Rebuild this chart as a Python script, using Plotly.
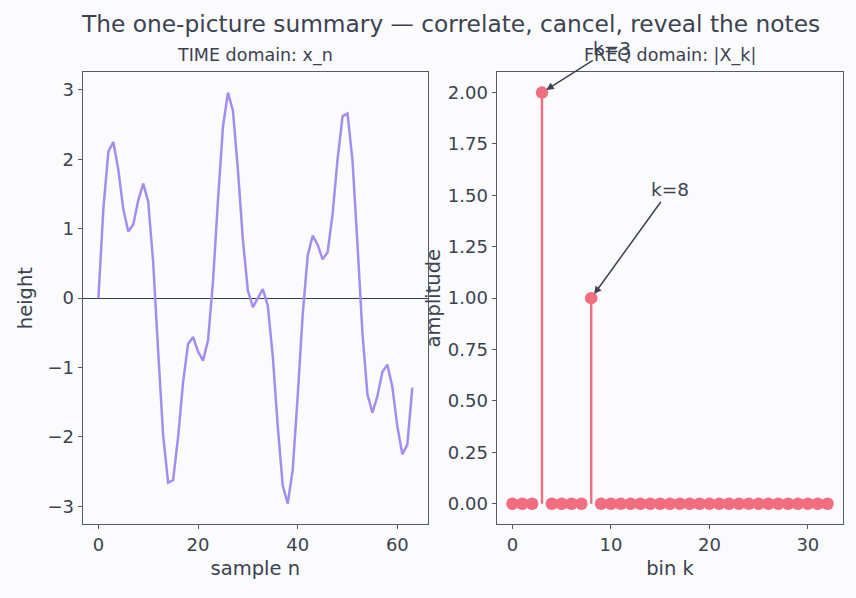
import plotly.graph_objects as go

# ---- data ----
sample_n = list(range(64))
height = [0.00, 1.29, 2.11, 2.25, 1.85, 1.28, 0.96, 1.06, 1.41, 1.65,
          1.39, 0.51, -0.77, -1.98, -2.66, -2.62, -2.00, -1.21, -0.66, -0.56,
          -0.77, -0.90, -0.61, 0.24, 1.41, 2.47, 2.96, 2.70, 1.85, 0.84,
          0.11, -0.13, 0.00, 0.13, -0.11, -0.84, -1.85, -2.70, -2.96, -2.47,
          -1.41, -0.24, 0.61, 0.90, 0.77, 0.56, 0.66, 1.21, 2.00, 2.62,
          2.66, 1.98, 0.77, -0.51, -1.39, -1.65, -1.41, -1.06, -0.96, -1.28,
          -1.85, -2.25, -2.11, -1.29]
bin_k = list(range(33))
amplitude = [0, 0, 0, 2.0, 0, 0, 0, 0, 1.0] + [0] * 24
peak_labels = ["k=3", "k=8"]
peak_bins = [3, 8]
peak_text_pos = [(10.1, 2.215), (16.0, 1.53)]

TEXT = "#3c4251"
SPINE = "#555b66"
BG = "#fbfbfd"
PURPLE = "#a38ef0"
RED = "#f26d80"
FONT = "DejaVu Sans"

fig = go.Figure()

fig.add_trace(go.Scatter(x=sample_n, y=height, mode="lines",
                         line=dict(color=PURPLE, width=2.5),
                         xaxis="x", yaxis="y", showlegend=False))

# stems
sx, sy = [], []
for k, a in zip(bin_k, amplitude):
    sx += [k, k, None]
    sy += [0, a, None]
fig.add_trace(go.Scatter(x=sx, y=sy, mode="lines",
                         line=dict(color=RED, width=2.4),
                         xaxis="x2", yaxis="y2", showlegend=False))
fig.add_trace(go.Scatter(x=bin_k, y=amplitude, mode="markers",
                         marker=dict(color=RED, size=12.5),
                         xaxis="x2", yaxis="y2", showlegend=False))

W, H = 856, 598
ydom = [1 - 524.3 / H, 1 - 72 / H]

axis_common = dict(showline=True, mirror=True, linecolor=SPINE, linewidth=1.3,
                   ticks="outside", ticklen=4, tickwidth=1.2, tickcolor=SPINE,
                   showgrid=False, automargin=False,
                   tickfont=dict(family=FONT, size=18, color=TEXT),
                   title_font=dict(family=FONT, size=19.5, color=TEXT))

fig.update_layout(
    width=W, height=H,
    margin=dict(l=0, r=0, t=0, b=0),
    paper_bgcolor=BG, plot_bgcolor=BG,
    font=dict(family=FONT, color=TEXT),
    xaxis=dict(domain=[82.7 / W, 428 / W], range=[-3.15, 66.15], dtick=20,
               zeroline=False, title=dict(text="sample n", standoff=7),
               anchor="y", **axis_common),
    yaxis=dict(domain=ydom, range=[-3.258, 3.258], dtick=1,
               zeroline=True, zerolinecolor="#3a3e48", zerolinewidth=0.8,
               title=dict(text="height", standoff=9), anchor="x",
               **axis_common),
    xaxis2=dict(domain=[496.7 / W, 843.3 / W], range=[-1.6, 33.6], dtick=10,
                zeroline=False, title=dict(text="bin k", standoff=7),
                anchor="y2", **axis_common),
    yaxis2=dict(domain=ydom, range=[-0.1, 2.1], dtick=0.25, tickformat=".2f",
                zeroline=False, title=dict(text="amplitude", standoff=2),
                anchor="x2", **axis_common),
)

annotations = [
    dict(text="The one-picture summary — correlate, cancel, reveal the notes",
         xref="paper", yref="paper", x=450 / W, y=1 - 23.5 / H,
         xanchor="center", yanchor="middle", showarrow=False,
         font=dict(family=FONT, size=23.3, color=TEXT)),
    dict(text="TIME domain: x_n", xref="paper", yref="paper",
         x=255.4 / W, y=1 - 55 / H, xanchor="center", yanchor="middle",
         showarrow=False, font=dict(family=FONT, size=17.5, color=TEXT)),
    dict(text="FREQ domain: |X_k|", xref="paper", yref="paper",
         x=670 / W, y=1 - 55 / H, xanchor="center", yanchor="middle",
         showarrow=False, font=dict(family=FONT, size=17.5, color=TEXT)),
]
for lab, k, (tx, ty) in zip(peak_labels, peak_bins, peak_text_pos):
    annotations.append(dict(
        text=lab, x=k, y=amplitude[k], xref="x2", yref="y2",
        ax=tx, ay=ty, axref="x2", ayref="y2",
        showarrow=True, arrowhead=2, arrowsize=1, arrowwidth=1.5,
        arrowcolor=TEXT, standoff=5, startstandoff=2, borderpad=0,
        font=dict(family=FONT, size=18.5, color=TEXT)))
fig.update_layout(annotations=annotations)

fig.write_html("out.html")
